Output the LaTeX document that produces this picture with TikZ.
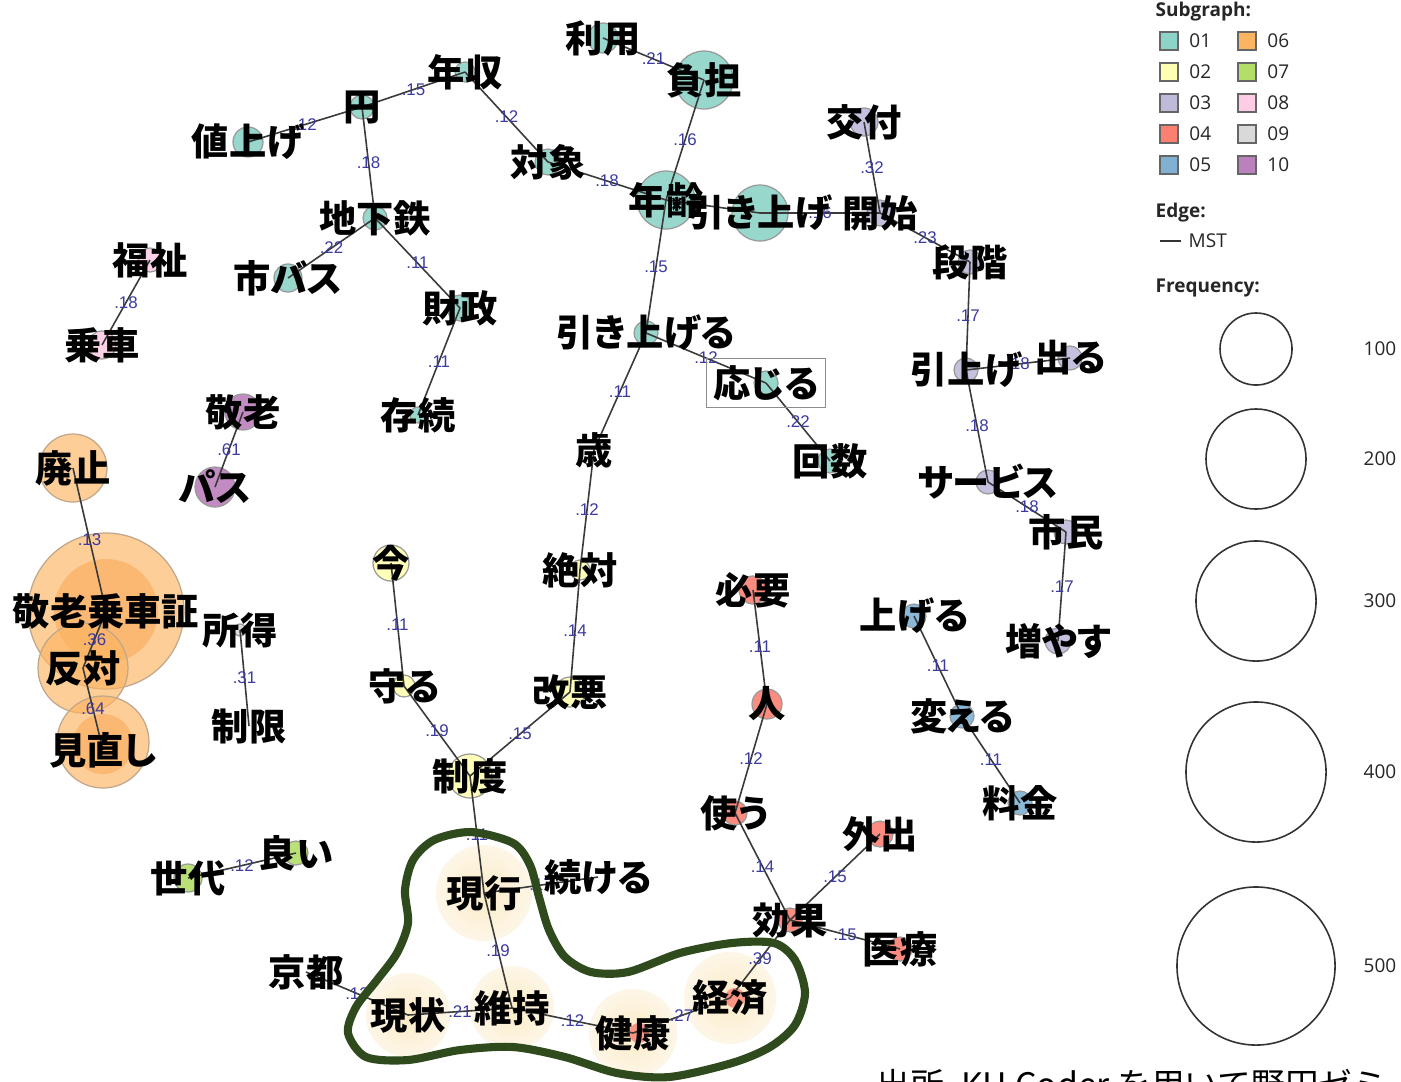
\documentclass[tikz,border=0pt]{standalone}
\usepackage{fontspec}
\setmainfont{Noto Sans CJK JP}[RawFeature=+palt]
\newfontfamily\captfamily{Noto Sans CJK JP}
\newfontfamily\legfamily{Open Sans}
\newfontfamily\coeffamily{Liberation Sans}
\usepackage{tikz}
\usetikzlibrary{positioning}
\definecolor{S01}{HTML}{8DD3C7}
\definecolor{S02}{HTML}{FFFFB3}
\definecolor{S03}{HTML}{BEBADA}
\definecolor{S04}{HTML}{FB8072}
\definecolor{S05}{HTML}{80B1D3}
\definecolor{S06}{HTML}{FDB462}
\definecolor{S07}{HTML}{B3DE69}
\definecolor{S08}{HTML}{FCCDE5}
\definecolor{S09}{HTML}{D9D9D9}
\definecolor{S10}{HTML}{BC80BD}
\definecolor{Core}{HTML}{F8A450}
\definecolor{Coef}{HTML}{3B3BA0}
\definecolor{Line}{HTML}{3A3A3A}
\definecolor{Ring}{HTML}{2F4A1C}
\definecolor{Glow}{HTML}{FBEBC6}
\definecolor{GlowMid}{HTML}{FDF5E4}
\pgfdeclarelayer{bubbles}
\pgfdeclarelayer{edges}
\pgfsetlayers{bubbles,edges,main}
\pgfdeclareradialshading{glowshade}{\pgfpoint{0bp}{0bp}}{color(0bp)=(Glow); color(22bp)=(GlowMid); color(50bp)=(white)}
\tikzset{
 word/.style={font=\fontsize{10.6pt}{12pt}\selectfont\bfseries,inner sep=0pt},
 edge/.style={draw=Line,line width=0.45pt},
 coef/.style={font=\coeffamily\fontsize{4.8pt}{5pt}\selectfont,text=Coef,inner sep=0pt},
 bub/.style={draw=black!40,line width=0.35pt,fill opacity=0.9},
 s01/.style={bub,fill=S01},
 s02/.style={bub,fill=S02},
 s03/.style={bub,fill=S03},
 s04/.style={bub,fill=S04},
 s05/.style={bub,fill=S05},
 s06/.style={bub,fill=S06,fill opacity=0.65,draw=S06!60!black!60},
 s07/.style={bub,fill=S07},
 s08/.style={bub,fill=S08},
 s09/.style={bub,fill=S09},
 s10/.style={bub,fill=S10},
 core/.style={fill=Core,fill opacity=0.5},
 glow/.style={shading=glowshade},
 ring/.style={draw=Ring,line width=2.3pt,line join=round},
 leghead/.style={font=\legfamily\bfseries\fontsize{5.4pt}{6pt}\selectfont,anchor=west,inner sep=0pt,text=black!85},
 legtxt/.style={font=\legfamily\fontsize{5.4pt}{6pt}\selectfont,anchor=west,inner sep=0pt,text=black!85},
 legbox/.style={draw=black!60,line width=0.4pt,minimum size=0.18cm,inner sep=0pt},
 freq/.style={circle,draw=black!80,line width=0.45pt,inner sep=0pt},
 capt/.style={font=\captfamily\fontsize{9.6pt}{10pt}\selectfont,inner sep=0pt}
}
\begin{document}
\begin{tikzpicture}[x=0.01cm,y=-0.01cm]
\useasboundingbox (0,0) rectangle (1401,1081);
% words
\node[word] (riyo) at (603,38) {利用};
\node[word] (futan) at (704,80) {負担};
\node[word] (nenshu) at (465,72) {年収};
\node[word] (en) at (362,107) {円};
\node[word] (neage) at (248,142) {値上げ};
\node[word] (taisho) at (548,162) {対象};
\node[word] (nenrei) at (666,200) {年齢};
\node[word] (hikiage) at (760,213) {引き上げ};
\node[word] (kaishi) at (880,213) {開始};
\node[word] (kofu) at (864,122) {交付};
\node[word] (dankai) at (970,262) {段階};
\node[word] (hikiage2) at (966,370) {引上げ};
\node[word] (deru) at (1070,358) {出る};
\node[word] (service) at (988,482) {サービス};
\node[word] (shimin) at (1066,532) {市民};
\node[word] (fuyasu) at (1058,641) {増やす};
\node[word] (chikatetsu) at (375,218) {地下鉄};
\node[word] (shibasu) at (288,278) {市バス};
\node[word] (zaisei) at (460,308) {財政};
\node[word] (sonzoku) at (418,415) {存続};
\node[word] (fukushi) at (150,260) {福祉};
\node[word] (josha) at (102,345) {乗車};
\node[word] (keiro) at (243,412) {敬老};
\node[word] (pasu) at (215,487) {パス};
\node[word] (hikiageru) at (646,333) {引き上げる};
\node[word,draw=black!45,line width=0.4pt,inner sep=2pt] (ojiru) at (766,383) {応じる};
\node[word] (kaisu) at (830,461) {回数};
\node[word] (sai) at (594,450) {歳};
\node[word] (zettai) at (580,570) {絶対};
\node[word] (kaiaku) at (570,692) {改悪};
\node[word] (seido) at (470,776) {制度};
\node[word] (ima) at (391,563) {今};
\node[word] (mamoru) at (404,686) {守る};
\node[word] (haishi) at (73,468) {廃止};
\node[word] (keirosho) at (106,611) {敬老乗車証};
\node[word] (hantai) at (83,668) {反対};
\node[word] (minaoshi) at (103,750) {見直し};
\node[word] (shotoku) at (240,630) {所得};
\node[word] (seigen) at (249,726) {制限};
\node[word] (sedai) at (188,878) {世代};
\node[word] (yoi) at (296,853) {良い};
\node[word] (genko) at (484,893) {現行};
\node[word] (tsuzukeru) at (598,877) {続ける};
\node[word] (iji) at (512,1008) {維持};
\node[word] (kyoto) at (306,972) {京都};
\node[word] (genjo) at (408,1015) {現状};
\node[word] (kenko) at (633,1033) {健康};
\node[word] (keizai) at (730,998) {経済};
\node[word] (koka) at (790,920) {効果};
\node[word] (iryo) at (900,949) {医療};
\node[word] (gaishutsu) at (880,834) {外出};
\node[word] (tsukau) at (735,813) {使う};
\node[word] (hito) at (767,704) {人};
\node[word] (hitsuyo) at (753,590) {必要};
\node[word] (ageru) at (914,616) {上げる};
\node[word] (kaeru) at (962,716) {変える};
\node[word] (ryokin) at (1020,803) {料金};
% hand-drawn ring
\draw[ring] plot[smooth cycle] coordinates {(471,832) (513,843) (530,865) (539,897) (549,930) (565,957) (591,972) (628,972) (680,953) (732,943) (774,943) (795,960) (805,993) (795,1025) (770,1047) (732,1063) (669,1077) (617,1073) (565,1057) (513,1047) (460,1050) (408,1060) (366,1057) (348,1033) (356,1007) (377,980) (397,953) (408,923) (405,890) (413,860) (434,840)};
% legend
\node[leghead] (subg) at (1155,12) {Subgraph:};
\node[legbox,fill=S01] (k01) at (1169,41) {};
\node[legbox,fill=S02] (k02) at (1169,72) {};
\node[legbox,fill=S03] (k03) at (1169,103) {};
\node[legbox,fill=S04] (k04) at (1169,134) {};
\node[legbox,fill=S05] (k05) at (1169,165) {};
\node[legbox,fill=S06] (k06) at (1247,41) {};
\node[legbox,fill=S07] (k07) at (1247,72) {};
\node[legbox,fill=S08] (k08) at (1247,103) {};
\node[legbox,fill=S09] (k09) at (1247,134) {};
\node[legbox,fill=S10] (k10) at (1247,165) {};
\node[legtxt,right=1mm of k01] {01};
\node[legtxt,right=1mm of k02] {02};
\node[legtxt,right=1mm of k03] {03};
\node[legtxt,right=1mm of k04] {04};
\node[legtxt,right=1mm of k05] {05};
\node[legtxt,right=1mm of k06] {06};
\node[legtxt,right=1mm of k07] {07};
\node[legtxt,right=1mm of k08] {08};
\node[legtxt,right=1mm of k09] {09};
\node[legtxt,right=1mm of k10] {10};
\node[leghead] (edgehd) at (1155,213) {Edge:};
\coordinate (mstA) at (1160,241);
\coordinate (mstB) at (1181,241);
\draw[draw=black!80,line width=0.45pt] (mstA) -- (mstB);
\node[legtxt,right=0.7mm of mstB] {MST};
\node[leghead] (freqhd) at (1155,288) {Frequency:};
\node[freq,minimum size=0.72cm] (f100) at (1256,349) {};
\node[freq,minimum size=1.00cm] (f200) at (1256,459) {};
\node[freq,minimum size=1.20cm] (f300) at (1256,601) {};
\node[freq,minimum size=1.40cm] (f400) at (1256,772) {};
\node[freq,minimum size=1.58cm] (f500) at (1256,966) {};
\node[legtxt,anchor=center] at (1380,349) {100};
\node[legtxt,anchor=center] at (1380,459) {200};
\node[legtxt,anchor=center] at (1380,601) {300};
\node[legtxt,anchor=center] at (1380,772) {400};
\node[legtxt,anchor=center] at (1380,966) {500};
\node[capt,anchor=base west] (source) at (876,1097) {出所\enspace KH Coder を用いて野田ゼミ};
% bubbles
\begin{pgfonlayer}{bubbles}
\fill[white] (0,0) rectangle (1401,1081);
\shade[glow] (genko.center) circle[radius=48];
\shade[glow] (genjo.center) circle[radius=42];
\shade[glow] (iji.center) circle[radius=42];
\shade[glow] (kenko.center) circle[radius=44];
\shade[glow] (keizai.center) circle[radius=46];
\draw[s01] (riyo.center) circle[radius=15];
\draw[s01] (futan.center) circle[radius=29];
\draw[s01] (nenshu.center) circle[radius=10];
\draw[s01] (en.center) circle[radius=12];
\draw[s01] (neage.center) circle[radius=15];
\draw[s01] (taisho.center) circle[radius=13];
\draw[s01] (nenrei.center) circle[radius=29];
\draw[s01] (hikiage.center) circle[radius=28];
\draw[s03] (kaishi.center) circle[radius=13];
\draw[s03] (kofu.center) circle[radius=14];
\draw[s03] (dankai.center) circle[radius=12];
\draw[s03] (hikiage2.center) circle[radius=12];
\draw[s03] (deru.center) circle[radius=12];
\draw[s03] (service.center) circle[radius=12];
\draw[s03] (shimin.center) circle[radius=12];
\draw[s03] (fuyasu.center) circle[radius=13];
\draw[s01] (chikatetsu.center) circle[radius=12];
\draw[s01] (shibasu.center) circle[radius=14];
\draw[s01] (zaisei.center) circle[radius=13];
\draw[s01] (sonzoku.center) circle[radius=8];
\draw[s08] (fukushi.center) circle[radius=12];
\draw[s08] (josha.center) circle[radius=14];
\draw[s10] (keiro.center) circle[radius=18];
\draw[s10] (pasu.center) circle[radius=20];
\draw[s01] (hikiageru.center) circle[radius=12];
\draw[s01] (ojiru.center) circle[radius=12];
\draw[s01] (kaisu.center) circle[radius=12];
\draw[s02] (zettai.center) circle[radius=10];
\draw[s02] (kaiaku.center) circle[radius=15];
\draw[s02] (seido.center) circle[radius=22];
\draw[s02] (ima.center) circle[radius=18];
\draw[s02] (mamoru.center) circle[radius=11];
\draw[s06] (haishi.center) circle[radius=34];
\draw[s06] (keirosho.center) circle[radius=78];
\fill[core] (keirosho.center) circle[radius=52];
\draw[s06] (hantai.center) circle[radius=45];
\draw[s06] (minaoshi.center) ++(0,-8) circle[radius=46];
\fill[core] (minaoshi.center) ++(0,-6) circle[radius=30];
\draw[s09] (shotoku.center) circle[radius=6];
\draw[s07] (sedai.center) circle[radius=14];
\draw[s07] (yoi.center) circle[radius=12];
\draw[s04] (koka.center) circle[radius=12];
\draw[s04] (iryo.center) circle[radius=12];
\draw[s04] (gaishutsu.center) circle[radius=13];
\draw[s04] (tsukau.center) circle[radius=12];
\draw[s04] (hito.center) circle[radius=15];
\draw[s04] (hitsuyo.center) circle[radius=14];
\fill[S04,fill opacity=0.8] (kenko.center) ++(6,0) circle[radius=10];
\fill[S04,fill opacity=0.8] (keizai.center) ++(5,0) circle[radius=10];
\draw[s05] (ageru.center) circle[radius=12];
\draw[s05] (kaeru.center) circle[radius=12];
\draw[s05] (ryokin.center) circle[radius=12];
\end{pgfonlayer}
% MST edges
\begin{pgfonlayer}{edges}
\draw[edge] (riyo.center) -- node[coef]{.21} (futan.center);
\draw[edge] (en.center) -- node[coef]{.15} (nenshu.center);
\draw[edge] (neage.center) -- node[coef]{.12} (en.center);
\draw[edge] (nenshu.center) -- node[coef]{.12} (taisho.center);
\draw[edge] (taisho.center) -- node[coef]{.18} (nenrei.center);
\draw[edge] (futan.center) -- node[coef]{.16} (nenrei.center);
\draw[edge] (nenrei.center) -- (hikiage.center);
\draw[edge] (hikiage.center) -- node[coef]{.16} (kaishi.center);
\draw[edge] (kofu.center) -- node[coef]{.32} (kaishi.center);
\draw[edge] (kaishi.center) -- node[coef]{.23} (dankai.center);
\draw[edge] (dankai.center) -- node[coef]{.17} (hikiage2.center);
\draw[edge] (hikiage2.center) -- node[coef]{.18} (deru.center);
\draw[edge] (hikiage2.center) -- node[coef]{.18} (service.center);
\draw[edge] (service.center) -- node[coef]{.18} (shimin.center);
\draw[edge] (shimin.center) -- node[coef]{.17} (fuyasu.center);
\draw[edge] (en.center) -- node[coef]{.18} (chikatetsu.center);
\draw[edge] (chikatetsu.center) -- node[coef]{.22} (shibasu.center);
\draw[edge] (chikatetsu.center) -- node[coef]{.11} (zaisei.center);
\draw[edge] (zaisei.center) -- node[coef]{.11} (sonzoku.center);
\draw[edge] (fukushi.center) -- node[coef]{.18} (josha.center);
\draw[edge] (keiro.center) -- node[coef]{.61} (pasu.center);
\draw[edge] (nenrei.center) -- node[coef]{.15} (hikiageru.center);
\draw[edge] (hikiageru.center) -- node[coef]{.12} (ojiru.center);
\draw[edge] (ojiru.center) -- node[coef]{.22} (kaisu.center);
\draw[edge] (hikiageru.center) -- node[coef]{.11} (sai.center);
\draw[edge] (sai.center) -- node[coef]{.12} (zettai.center);
\draw[edge] (zettai.center) -- node[coef]{.14} (kaiaku.center);
\draw[edge] (kaiaku.center) -- node[coef]{.15} (seido.center);
\draw[edge] (ima.center) -- node[coef]{.11} (mamoru.center);
\draw[edge] (mamoru.center) -- node[coef]{.19} (seido.center);
\draw[edge] (seido.center) -- node[coef]{.11} (genko.center);
\draw[edge] (genko.center) -- node[coef]{.17} (tsuzukeru.center);
\draw[edge] (genko.center) -- node[coef]{.19} (iji.center);
\draw[edge] (kyoto.center) -- node[coef]{.12} (genjo.center);
\draw[edge] (genjo.center) -- node[coef]{.21} (iji.center);
\draw[edge] (iji.center) -- node[coef]{.12} (kenko.center);
\draw[edge] (kenko.center) -- node[coef]{.27} (keizai.center);
\draw[edge] (keizai.center) -- node[coef]{.39} (koka.center);
\draw[edge] (koka.center) -- node[coef]{.15} (iryo.center);
\draw[edge] (koka.center) -- node[coef]{.15} (gaishutsu.center);
\draw[edge] (tsukau.center) -- node[coef]{.14} (koka.center);
\draw[edge] (hito.center) -- node[coef]{.12} (tsukau.center);
\draw[edge] (hitsuyo.center) -- node[coef]{.11} (hito.center);
\draw[edge] (ageru.center) -- node[coef]{.11} (kaeru.center);
\draw[edge] (kaeru.center) -- node[coef]{.11} (ryokin.center);
\draw[edge] (haishi.center) -- node[coef]{.13} (keirosho.center);
\draw[edge] (keirosho.center) -- node[coef]{.36} (hantai.center);
\draw[edge] (hantai.center) -- node[coef]{.64} (minaoshi.center);
\draw[edge] (shotoku.center) -- node[coef]{.31} (seigen.center);
\draw[edge] (sedai.center) -- node[coef]{.12} (yoi.center);
\end{pgfonlayer}
\end{tikzpicture}
\end{document}
